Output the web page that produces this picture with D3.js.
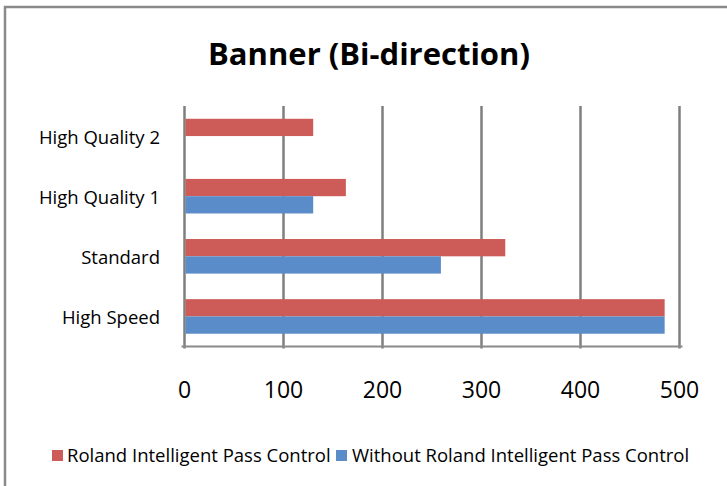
<!DOCTYPE html>
<html>
<head>
<meta charset="utf-8">
<script src="https://cdn.jsdelivr.net/npm/d3@7"></script>
<style>
  body { margin: 0; background: #fff; }
  text { font-family: "Open Sans", sans-serif; fill: #000; }
</style>
</head>
<body>
<svg id="chart" width="727" height="486"></svg>
<script>
// data
const categories = ["High Quality 2", "High Quality 1", "Standard", "High Speed"];
const seriesNames = ["Roland Intelligent Pass Control", "Without Roland Intelligent Pass Control"];
const rolandValues = [130, 163, 324, 485];
const withoutValues = [null, 130, 259, 485];
const xTicks = [0, 100, 200, 300, 400, 500];
const seriesColors = ["#cd5b57", "#5a8cc9"];

const svg = d3.select("#chart");

// frame
svg.append("path")
  .attr("d", "M5,486 L5,7 L727,7")
  .attr("fill", "none")
  .attr("stroke", "#8a8a8a")
  .attr("stroke-width", 2.5);

const plot = { left: 184.5, right: 679.5, top: 106, bottom: 346.5 };

const xScale = d3.scaleLinear().domain([0, 500]).range([plot.left, plot.right]);
const yScale = d3.scaleBand().domain(categories).range([plot.top, plot.bottom]).paddingInner(0.425).paddingOuter(0.2125);

// title
svg.append("text")
  .attr("x", 369)
  .attr("y", 65)
  .attr("text-anchor", "middle")
  .style("font-size", "31px")
  .style("font-weight", "bold")
  .text("Banner (Bi-direction)");

// gridlines
const g = svg.append("g");
g.selectAll(".grid-line")
  .data(xTicks)
  .enter()
  .append("line")
  .attr("class", "grid-line")
  .attr("x1", (d) => xScale(d))
  .attr("x2", (d) => xScale(d))
  .attr("y1", plot.top)
  .attr("y2", plot.bottom + 2)
  .attr("stroke", "#7f7f7f")
  .attr("stroke-width", 2.5);

// bars
const barH = yScale.bandwidth() / 2;
const rows = categories.map((c, i) => ({ cat: c, values: [rolandValues[i], withoutValues[i]] }));
rows.forEach((row) => {
  row.values.forEach((v, s) => {
    if (v == null) return;
    g.append("rect")
      .attr("x", xScale(0) + 1)
      .attr("y", yScale(row.cat) + s * barH)
      .attr("width", xScale(v) - xScale(0) - 1)
      .attr("height", barH)
      .attr("fill", seriesColors[s]);
  });
});

// bottom axis line
g.append("line")
  .attr("x1", plot.left - 3)
  .attr("x2", plot.right + 3)
  .attr("y1", plot.bottom)
  .attr("y2", plot.bottom)
  .attr("stroke", "#8a8a8a")
  .attr("stroke-width", 2);

// x tick labels
svg.selectAll(".x-label")
  .data(xTicks)
  .enter()
  .append("text")
  .attr("class", "x-label")
  .attr("x", (d) => xScale(d))
  .attr("y", 398)
  .attr("text-anchor", "middle")
  .style("font-size", "23px")
  .text((d) => d);

// y labels
svg.selectAll(".y-label")
  .data(categories)
  .enter()
  .append("text")
  .attr("class", "y-label")
  .attr("x", 160)
  .attr("y", (d) => yScale(d) + yScale.bandwidth() / 2 + 8)
  .attr("text-anchor", "end")
  .style("font-size", "18.5px")
  .text((d) => d);

// legend
const legendItems = [
  { name: seriesNames[0], color: seriesColors[0], sx: 52, tx: 67 },
  { name: seriesNames[1], color: seriesColors[1], sx: 336, tx: 352 },
];
legendItems.forEach((d) => {
  svg.append("rect")
    .attr("x", d.sx)
    .attr("y", 450)
    .attr("width", 11)
    .attr("height", 11)
    .attr("fill", d.color);
  svg.append("text")
    .attr("x", d.tx)
    .attr("y", 462)
    .style("font-size", "18.5px")
    .text(d.name);
});
</script>
</body>
</html>
